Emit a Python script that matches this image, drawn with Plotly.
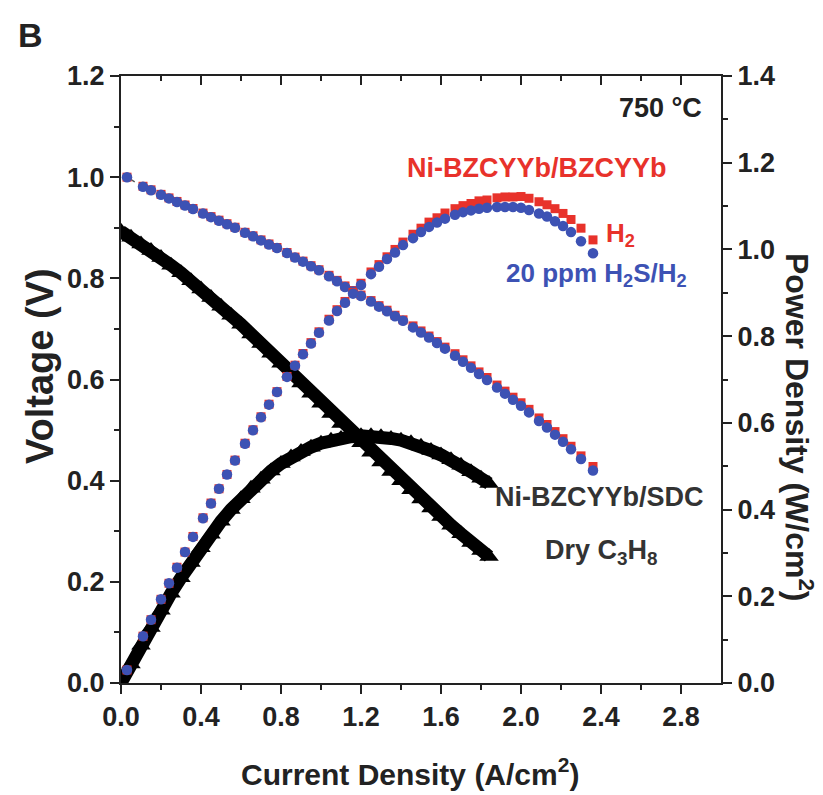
import plotly.graph_objects as go

# ---------------- data ----------------
# Ni-BZCYYb/BZCYYb cell, H2 and 20 ppm H2S/H2 (shared current densities, A/cm2)
j_h2 = [0.03, 0.11, 0.15, 0.20, 0.24, 0.28, 0.32, 0.36, 0.41, 0.45, 0.49, 0.53, 0.57, 0.62,
        0.66, 0.70, 0.74, 0.78, 0.83, 0.87, 0.91, 0.95, 0.99, 1.04, 1.08, 1.12, 1.16, 1.20,
        1.25, 1.29, 1.33, 1.37, 1.41, 1.46, 1.50, 1.54, 1.58, 1.62, 1.67, 1.71, 1.75, 1.79,
        1.83, 1.88, 1.92, 1.96, 2.00, 2.04, 2.09, 2.13, 2.17, 2.21, 2.25, 2.30, 2.36]

v_h2 = [1.000, 0.982, 0.975, 0.966, 0.959, 0.952, 0.945, 0.938, 0.929, 0.922, 0.915, 0.908,
        0.901, 0.891, 0.884, 0.876, 0.868, 0.861, 0.851, 0.842, 0.834, 0.825, 0.817, 0.806,
        0.796, 0.785, 0.776, 0.767, 0.756, 0.746, 0.737, 0.727, 0.718, 0.706, 0.696, 0.686,
        0.675, 0.664, 0.651, 0.639, 0.627, 0.615, 0.604, 0.589, 0.577, 0.565, 0.554, 0.541,
        0.524, 0.511, 0.497, 0.483, 0.468, 0.449, 0.428]
p_h2 = [0.030, 0.108, 0.146, 0.193, 0.230, 0.267, 0.302, 0.338, 0.381, 0.415, 0.448, 0.481,
        0.514, 0.553, 0.584, 0.614, 0.643, 0.672, 0.707, 0.733, 0.760, 0.785, 0.810, 0.839,
        0.861, 0.880, 0.901, 0.922, 0.948, 0.965, 0.983, 1.000, 1.017, 1.035, 1.049, 1.063,
        1.073, 1.084, 1.094, 1.101, 1.106, 1.112, 1.114, 1.119, 1.121, 1.121, 1.122, 1.118,
        1.110, 1.103, 1.094, 1.083, 1.069, 1.049, 1.022]

v_h2s = [1.000, 0.981, 0.974, 0.965, 0.958, 0.951, 0.944, 0.937, 0.928, 0.921, 0.914, 0.907,
         0.900, 0.890, 0.883, 0.875, 0.867, 0.860, 0.850, 0.841, 0.833, 0.824, 0.816, 0.804,
         0.794, 0.783, 0.774, 0.765, 0.754, 0.744, 0.735, 0.725, 0.716, 0.703, 0.693, 0.683,
         0.672, 0.661, 0.647, 0.635, 0.623, 0.611, 0.599, 0.584, 0.572, 0.560, 0.548, 0.535,
         0.518, 0.505, 0.491, 0.477, 0.462, 0.443, 0.420]
p_h2s = [0.030, 0.108, 0.146, 0.193, 0.230, 0.266, 0.302, 0.337, 0.380, 0.414, 0.448, 0.481,
         0.513, 0.552, 0.583, 0.613, 0.642, 0.671, 0.706, 0.732, 0.758, 0.783, 0.808, 0.836,
         0.858, 0.877, 0.898, 0.918, 0.943, 0.960, 0.978, 0.993, 1.010, 1.026, 1.040, 1.052,
         1.062, 1.071, 1.080, 1.086, 1.090, 1.094, 1.096, 1.098, 1.098, 1.098, 1.096, 1.091,
         1.083, 1.076, 1.065, 1.054, 1.040, 1.019, 0.991]

# Ni-BZCYYb/SDC cell, dry C3H8
j_c3h8 = [0.00, 0.05, 0.10, 0.15, 0.20, 0.25, 0.30, 0.35, 0.40, 0.45, 0.50, 0.55, 0.60, 0.65,
          0.70, 0.75, 0.80, 0.85, 0.90, 0.95, 1.00, 1.05, 1.10, 1.15, 1.20, 1.25, 1.30, 1.35,
          1.40, 1.45, 1.50, 1.55, 1.60, 1.65, 1.70, 1.75, 1.80, 1.84]
v_c3h8 = [0.893, 0.881, 0.868, 0.855, 0.841, 0.826, 0.811, 0.795, 0.779, 0.762, 0.745, 0.727,
          0.709, 0.690, 0.671, 0.652, 0.632, 0.613, 0.593, 0.573, 0.553, 0.533, 0.513, 0.494,
          0.475, 0.456, 0.437, 0.418, 0.400, 0.382, 0.364, 0.346, 0.329, 0.312, 0.295, 0.278,
          0.262, 0.250]
p_c3h8 = [0.000, 0.044, 0.087, 0.128, 0.168, 0.207, 0.243, 0.278, 0.312, 0.343, 0.373, 0.400,
          0.425, 0.449, 0.470, 0.489, 0.506, 0.521, 0.534, 0.544, 0.553, 0.560, 0.564, 0.568,
          0.570, 0.570, 0.568, 0.564, 0.560, 0.554, 0.546, 0.536, 0.526, 0.515, 0.502, 0.487,
          0.472, 0.460]

x_ticks = [0.0, 0.4, 0.8, 1.2, 1.6, 2.0, 2.4, 2.8]
x_tick_text = ["0.0", "0.4", "0.8", "1.2", "1.6", "2.0", "2.4", "2.8"]
v_ticks = [0.0, 0.2, 0.4, 0.6, 0.8, 1.0, 1.2]
p_ticks = [0.0, 0.2, 0.4, 0.6, 0.8, 1.0, 1.2, 1.4]

# ---------------- styling ----------------
RED = "#e8322b"
BLUE = "#3d52b4"
BLACK = "#000000"
AX = "#222222"
FONT = "Liberation Sans, Arial, sans-serif"

# plot area in pixels
W, H = 823, 795
L, R, T, B = 121, 721, 76, 683


def px(xp):
    return (xp - L) / (R - L)


def py(yp):
    return (B - yp) / (B - T)


fig = go.Figure()

# voltage curves (left axis)
fig.add_trace(go.Scatter(x=j_c3h8, y=v_c3h8, mode="lines+markers",
                         line=dict(color=BLACK, width=13),
                         marker=dict(symbol="triangle-up", size=17, color=BLACK),
                         showlegend=False, hoverinfo="skip"))
fig.add_trace(go.Scatter(x=j_h2[:2], y=v_h2s[:2], mode="lines",
                         line=dict(color="#555555", width=1.5, dash="dash"),
                         showlegend=False, hoverinfo="skip"))
fig.add_trace(go.Scatter(x=j_h2, y=v_h2, mode="markers",
                         marker=dict(symbol="square", size=9, color=RED),
                         showlegend=False, hoverinfo="skip"))
fig.add_trace(go.Scatter(x=j_h2, y=v_h2s, mode="markers",
                         marker=dict(symbol="circle", size=10.5, color=BLUE),
                         showlegend=False, hoverinfo="skip"))

# power density curves (right axis)
fig.add_trace(go.Scatter(x=j_c3h8, y=p_c3h8, mode="lines+markers", yaxis="y2",
                         line=dict(color=BLACK, width=13),
                         marker=dict(symbol="triangle-up", size=17, color=BLACK),
                         showlegend=False, hoverinfo="skip"))
fig.add_trace(go.Scatter(x=j_h2, y=p_h2, mode="markers", yaxis="y2",
                         marker=dict(symbol="square", size=9, color=RED),
                         showlegend=False, hoverinfo="skip"))
fig.add_trace(go.Scatter(x=j_h2, y=p_h2s, mode="markers", yaxis="y2",
                         marker=dict(symbol="circle", size=10.5, color=BLUE),
                         showlegend=False, hoverinfo="skip"))

# invisible trace to carry the mirrored top axis (inward ticks)
fig.add_trace(go.Scatter(x=[0], y=[0], xaxis="x2", mode="markers",
                         marker=dict(opacity=0), showlegend=False, hoverinfo="skip"))

tickfont = dict(family=FONT, size=27, color=AX, weight="bold")

fig.update_layout(
    width=W, height=H,
    margin=dict(l=L, r=W - R, t=T, b=H - B, pad=0),
    paper_bgcolor="white", plot_bgcolor="white",
    showlegend=False,
    xaxis=dict(range=[0, 3.0], tickvals=x_ticks, ticktext=x_tick_text,
               ticks="outside", ticklen=9, tickwidth=2, tickcolor=AX,
               minor=dict(tickvals=[0.2, 0.6, 1.0, 1.4, 1.8, 2.2, 2.6], ticks="outside",
                          ticklen=5, tickwidth=2, tickcolor=AX),
               showline=True, linewidth=2, linecolor=AX, showgrid=False, zeroline=False,
               tickfont=tickfont),
    xaxis2=dict(range=[0, 3.0], overlaying="x", side="top", anchor="y",
                tickvals=x_ticks, ticks="inside", ticklen=9, tickwidth=2, tickcolor=AX,
                minor=dict(tickvals=[0.2, 0.6, 1.0, 1.4, 1.8, 2.2, 2.6], ticks="inside",
                           ticklen=5, tickwidth=2, tickcolor=AX),
                showticklabels=False, showline=True, linewidth=2, linecolor=AX,
                showgrid=False, zeroline=False),
    yaxis=dict(range=[0, 1.2], tickvals=v_ticks, tickformat=".1f",
               ticks="outside", ticklen=9, tickwidth=2, tickcolor=AX,
               minor=dict(tickvals=[0.1, 0.3, 0.5, 0.7, 0.9, 1.1], ticks="outside",
                          ticklen=5, tickwidth=2, tickcolor=AX),
               showline=True, linewidth=2, linecolor=AX, showgrid=False, zeroline=False,
               tickfont=tickfont),
    yaxis2=dict(range=[0, 1.4], tickvals=p_ticks, tickformat=".1f", overlaying="y",
                side="right", anchor="x",
                ticks="outside", ticklen=9, tickwidth=2, tickcolor=AX,
                minor=dict(tickvals=[0.1, 0.3, 0.5, 0.7, 0.9, 1.1, 1.3], ticks="outside",
                           ticklen=5, tickwidth=2, tickcolor=AX),
                showline=True, linewidth=2, linecolor=AX, showgrid=False, zeroline=False,
                tickfont=tickfont),
)


def ann(text, x, y, size, color=AX, xanchor="center", angle=0):
    fig.add_annotation(text=text, x=x, y=y, xref="paper", yref="paper",
                       showarrow=False, xanchor=xanchor, yanchor="middle",
                       textangle=angle,
                       font=dict(family=FONT, size=size, color=color, weight="bold"))


ann("B", px(30), py(35), 34, color="#222222")
ann("Voltage (V)", px(40), py(366), 38, angle=-90)
ann("Power Density (W/cm<sup>2</sup>)", px(799), py(428), 32, angle=90)
ann("Current Density (A/cm<sup>2</sup>)", px(410), py(772), 30)
ann("750 °C", px(704), py(108), 27, color="#222222", xanchor="right")
ann("Ni-BZCYYb/BZCYYb", px(405), py(168), 27, color=RED, xanchor="left")
ann("H<sub>2</sub>", px(604), py(234), 26, color=RED, xanchor="left")
ann("20 ppm H<sub>2</sub>S/H<sub>2</sub>", px(504), py(274), 26, color=BLUE, xanchor="left")
ann("Ni-BZCYYb/SDC", px(493), py(497), 27, color="#333333", xanchor="left")
ann("Dry C<sub>3</sub>H<sub>8</sub>", px(601), py(552), 27, color="#333333")

fig.write_html("out.html")
